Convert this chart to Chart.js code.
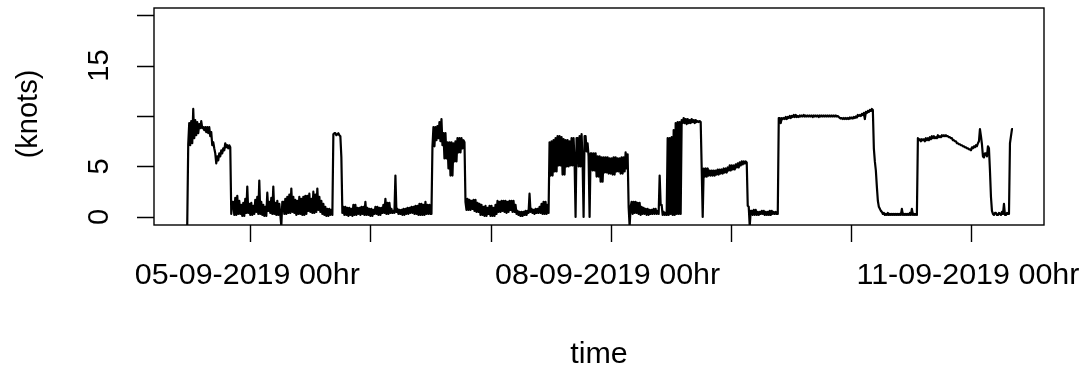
<!DOCTYPE html>
<html>
<head>
<meta charset="utf-8">
<script src="https://cdn.jsdelivr.net/npm/chart.js@4.4.1/dist/chart.umd.min.js"></script>
<style>
  html, body { margin: 0; padding: 0; background: #ffffff; }
  canvas { display: block; }
</style>
</head>
<body>
<canvas id="c" width="1087" height="375"></canvas>
<script>
// Speed (knots), one reading every 0.2 h (12 min), starting 04-09-2019 11:24
// (= -12.6 h relative to 05-09-2019 00hr). Two readings per row entry pair.
const startHour = -12.6;
const stepHour = 0.2;
const speedKnots = [
  -0.9,7.2, 9.3,7.1, 9.5,7.3, 10.7,7.8, 9.6,8.1, 9.4,8.3, 9.2,8.8, 9.5,8.8, 8.9,8.6, 8.9,8.4,
  8.9,8.3, 8.9,8.0, 8.4,7.1, 7.4,6.8, 6.3,5.3, 6.0,5.6, 6.3,6.0, 6.6,6.3, 6.8,6.6, 7.3,6.9,
  7.1,6.8, 7.1,6.9, 0.3,1.5, 1.5,0.2, 1.9,0.2, 2.1,0.3, 1.6,0.3, 1.2,0.1, 1.4,0.1, 1.8,0.4,
  3.0,0.4, 1.3,0.2, 1.4,0.2, 1.1,0.3, 1.7,0.5, 2.0,0.3, 3.6,0.3, 1.5,0.2, 1.2,0.1, 1.0,0.1,
  2.4,0.6, 1.5,0.4, 1.9,0.3, 3.0,0.3, 1.4,0.2, 1.6,0.2, 1.3,0.2, -0.9,1.5, 1.5,0.3, 1.8,0.3,
  2.0,0.4, 2.2,0.4, 2.8,0.5, 2.0,0.4, 1.7,0.2, 1.6,0.3, 2.0,0.3, 1.8,0.2, 2.0,0.2, 2.1,0.3,
  2.1,0.6, 2.3,0.5, 1.8,0.4, 2.5,0.4, 2.2,0.5, 2.8,0.7, 2.0,0.5, 1.6,0.3, 1.3,0.2, 1.0,0.1,
  0.8,0.1, 0.8,0.2, 0.7,0.2, 8.2,8.3, 8.3,8.1, 8.2,8.3, 8.1,8.0, 5.9,0.4, 1.0,0.2, 1.0,0.2,
  0.9,0.1, 0.9,0.2, 0.8,0.1, 1.2,0.2, 1.2,0.2, 0.9,0.3, 0.9,0.2, 1.0,0.3, 1.0,0.2, 1.5,0.2,
  0.9,0.2, 0.8,0.1, 0.8,0.1, 0.7,0.3, 1.0,0.3, 1.0,0.2, 0.9,0.2, 0.9,0.4, 1.2,0.4, 1.8,0.3,
  1.4,0.3, 1.4,0.4, 0.8,0.4, 0.6,0.4, 4.1,0.5, 0.8,0.3, 0.7,0.3, 0.7,0.2, 0.8,0.2, 0.8,0.3,
  0.9,0.3, 0.9,0.4, 1.0,0.4, 1.0,0.3, 1.1,0.3, 1.1,0.2, 1.3,0.2, 1.3,0.2, 1.2,0.2, 1.5,0.3,
  1.2,0.3, 1.2,0.3, 0.3,7.0, 8.9,7.0, 8.9,7.6, 9.0,7.8, 9.4,7.5, 9.7,7.1, 8.3,5.8, 8.3,5.8,
  7.4,4.8, 7.4,4.1, 7.4,4.1, 7.3,5.5, 7.5,5.5, 7.8,6.4, 7.8,6.4, 7.8,6.8, 7.6,7.4, 1.5,0.7,
  1.8,0.7, 1.7,0.7, 1.6,0.8, 1.7,0.6, 1.7,0.5, 1.4,0.5, 1.3,0.2, 1.2,0.2, 1.0,0.1, 1.1,0.1,
  0.9,0.3, 1.1,0.1, 1.1,0.1, 0.9,0.1, 1.2,0.3, 1.6,0.5, 1.5,0.5, 1.6,0.6, 1.6,0.5, 1.6,0.4,
  1.5,0.5, 1.6,0.7, 1.6,0.5, 1.6,0.5, 1.2,0.3, 0.6,0.2, 0.5,0.1, 0.5,0.1, 0.5,0.2, 0.6,0.2,
  0.6,0.4, 2.3,0.5, 0.8,0.4, 0.7,0.3, 0.8,0.4, 0.8,0.4, 1.0,0.4, 1.3,0.3, 1.5,0.3, 1.5,0.3,
  1.2,0.4, 7.4,4.1, 7.5,4.1, 7.6,4.5, 7.8,4.5, 8.0,5.1, 8.0,5.1, 7.9,4.2, 7.7,4.2, 7.6,5.0,
  7.6,5.0, 7.5,5.1, 7.8,5.1, 7.8,5.5, 0.0,7.8, 7.8,5.0, 8.0,5.0, 8.2,5.5, 0.0,8.0, 8.0,6.5,
  7.3,6.0, 0.0,6.3, 6.3,4.6, 6.3,4.6, 6.3,4.0, 6.0,4.0, 6.0,3.5, 5.9,3.5, 5.9,4.4, 5.9,4.4,
  5.9,4.3, 5.8,4.3, 5.8,4.2, 5.9,4.2, 5.9,4.5, 5.8,4.5, 5.8,4.3, 5.9,4.3, 5.9,4.5, 6.4,4.8,
  6.2,1.0, -0.9,1.0, 1.5,0.3, 1.5,0.4, 1.5,0.4, 1.4,0.3, 1.4,0.2, 1.0,0.3, 0.9,0.3, 0.8,0.2,
  0.8,0.2, 0.7,0.3, 0.7,0.3, 0.8,0.3, 0.8,0.3, 0.6,0.3, 4.1,1.2, 1.2,0.2, 0.5,0.2, 0.4,0.2,
  7.8,0.2, 7.8,0.3, 7.9,0.2, 8.6,0.2, 9.3,0.3, 9.4,0.3, 9.4,0.3, 9.6,9.3, 9.8,9.3, 9.7,9.2,
  9.7,9.3, 9.6,9.3, 9.7,9.4, 9.6,9.3, 9.6,9.4, 9.5,9.4, 9.5,9.4, 4.8,0.0, 4.8,4.0, 4.8,4.0,
  4.8,4.1, 4.6,4.1, 4.6,4.1, 4.6,4.1, 4.6,4.2, 4.7,4.2, 4.7,4.3, 4.7,4.3, 4.8,4.4, 4.8,4.4,
  4.9,4.6, 5.1,4.6, 5.1,4.7, 5.1,4.7, 5.2,4.9, 5.3,4.9, 5.4,5.1, 5.5,5.2, 5.5,5.3, 5.5,5.4,
  1.1,1.0, -0.9,0.6, 0.6,0.2, 0.7,0.2, 0.7,0.2, 0.5,0.2, 0.5,0.3, 0.6,0.3, 0.6,0.2, 0.5,0.2,
  0.5,0.2, 0.6,0.2, 0.6,0.3, 0.5,0.3, 0.5,0.3, 0.3,9.8, 9.8,9.3, 9.8,9.7, 9.8,9.7, 9.9,9.7,
  9.9,9.8, 10.0,9.8, 10.0,9.9, 10.1,9.9, 10.1,9.9, 10.0,9.9, 10.05,9.95, 10.05,9.95, 10.1,9.95, 10.05,9.95,
  10.05,9.95, 10.05,9.95, 10.05,9.9, 10.05,9.95, 10.05,9.95, 10.05,9.9, 10.05,9.95, 10.05,9.95, 10.05,9.95, 10.05,9.95,
  10.05,9.95, 10.05,9.95, 10.05,9.95, 10.05,9.95, 10.05,9.95, 10.0,9.9, 9.8,9.75, 9.8,9.7, 9.8,9.7, 9.8,9.7,
  9.8,9.7, 9.85,9.75, 9.85,9.75, 9.9,9.8, 9.95,9.85, 10.1,10.0, 10.1,10.0, 10.2,10.1, 10.3,9.7, 10.4,10.3,
  10.5,10.4, 10.6,10.5, 10.7,10.6, 6.8,5.5, 4.6,3.0, 1.6,1.0, 0.8,0.6, 0.5,0.3, 0.4,0.2, 0.3,0.2,
  0.4,0.2, 0.3,0.2, 0.3,0.2, 0.3,0.2, 0.3,0.2, 0.3,0.2, 0.3,0.2, 0.8,0.2, 0.3,0.2, 0.3,0.2,
  0.3,0.2, 0.4,0.2, 0.8,0.2, 0.3,0.2, 0.3,0.2, 7.8,7.6, 7.7,7.5, 7.7,7.6, 7.7,7.5, 7.8,7.6,
  7.8,7.6, 7.9,7.7, 8.0,7.8, 8.0,7.8, 7.9,7.8, 8.1,7.9, 8.0,7.9, 8.1,8.0, 8.1,8.0, 8.1,8.0,
  8.0,7.9, 7.9,7.8, 7.8,7.6, 7.6,7.5, 7.5,7.3, 7.3,7.2, 7.2,7.1, 7.1,7.0, 7.0,6.9, 6.9,6.8,
  6.8,6.7, 6.7,6.6, 6.9,6.8, 7.0,6.9, 7.1,7.0, 7.3,7.5, 8.7,8.0, 7.2,6.0, 5.9,6.3, 6.3,6.0,
  7.0,6.8, 4.6,2.0, 0.6,0.3, 0.2,0.4, 0.4,0.2, 0.2,0.4, 0.3,0.2, 0.5,0.3, 1.3,0.2, 0.2,0.4,
  0.3,0.3, 7.3,8.0, 8.7,8.7
];

// Axes (hours relative to 05-09-2019 00hr)
const xTickHours = [0, 24, 48, 72, 96, 120, 144];
const xTickLabels = ["05-09-2019 00hr", "", "", "08-09-2019 00hr", "", "", "11-09-2019 00hr"];
const yTickValues = [0, 5, 10, 15, 20];
const yTickLabels = ["0", "5", "", "15", ""];
const xTitle = "time";
const yTitle = "(knots)";
const xRange = [-19.24, 158.6];
const yRange = [-0.8, 20.8];

const points = speedKnots.map((v, i) => ({ x: startHour + i * stepHour, y: v }));

const FONT = '29px "Liberation Sans", Arial, sans-serif';
const INK = '#000000';

const baseAxesPlugin = {
  id: 'baseAxes',
  afterDraw(chart) {
    const ctx = chart.ctx;
    const a = chart.chartArea;
    const xs = chart.scales.x, ys = chart.scales.y;
    ctx.save();
    ctx.strokeStyle = INK;
    ctx.fillStyle = INK;
    ctx.lineWidth = 1.4;
    ctx.strokeRect(a.left, a.top + 1, a.right - a.left, a.bottom - a.top - 1);
    ctx.beginPath();
    yTickValues.forEach(v => {
      const y = Math.round(ys.getPixelForValue(v)) + 0.5;
      ctx.moveTo(a.left - 17, y); ctx.lineTo(a.left, y);
    });
    xTickHours.forEach(h => {
      const x = Math.round(xs.getPixelForValue(h)) + 0.5;
      ctx.moveTo(x, a.bottom); ctx.lineTo(x, a.bottom + 17);
    });
    ctx.stroke();
    ctx.font = FONT;
    ctx.textAlign = 'center';
    ctx.textBaseline = 'alphabetic';
    yTickValues.forEach((v, i) => {
      if (!yTickLabels[i]) return;
      const y = ys.getPixelForValue(v);
      ctx.save();
      ctx.translate(108, y);
      ctx.rotate(-Math.PI / 2);
      ctx.fillText(yTickLabels[i], 0, 0);
      ctx.restore();
    });
    ctx.save();
    ctx.translate(37, (a.top + a.bottom) / 2 - 2);
    ctx.rotate(-Math.PI / 2);
    ctx.fillText(yTitle, 0, 0);
    ctx.restore();
    xTickHours.forEach((h, i) => {
      if (!xTickLabels[i]) return;
      const x = xs.getPixelForValue(h) - 3;
      ctx.save();
      ctx.translate(x, 284);
      ctx.scale(1.05, 1);
      ctx.fillText(xTickLabels[i], 0, 0);
      ctx.restore();
    });
    ctx.save();
    ctx.translate((a.left + a.right) / 2, 363);
    ctx.scale(1.05, 1);
    ctx.fillText(xTitle, 0, 0);
    ctx.restore();
    ctx.restore();
  }
};

new Chart(document.getElementById('c'), {
  type: 'line',
  data: {
    datasets: [{
      data: points,
      borderColor: INK,
      borderWidth: 2.2,
      borderJoinStyle: 'round',
      borderCapStyle: 'butt',
      pointRadius: 0,
      tension: 0,
      fill: false
    }]
  },
  options: {
    responsive: false,
    animation: false,
    events: [],
    layout: { padding: { left: 154, right: 43, top: 7, bottom: 150 } },
    plugins: { legend: { display: false }, tooltip: { enabled: false } },
    scales: {
      x: { type: 'linear', min: xRange[0], max: xRange[1], display: false },
      y: { type: 'linear', min: yRange[0], max: yRange[1], display: false }
    }
  },
  plugins: [baseAxesPlugin]
});
</script>
</body>
</html>
